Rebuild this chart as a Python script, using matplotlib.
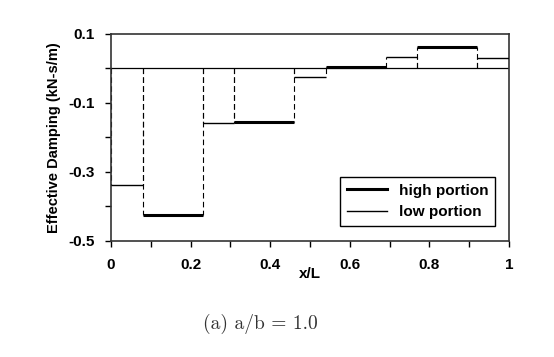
import matplotlib
matplotlib.use("Agg")
import matplotlib.pyplot as plt
from matplotlib.ticker import FixedLocator

# segment edges along x/L and damping values
edges = [0, 0.08, 0.23, 0.31, 0.46, 0.54, 0.69, 0.77, 0.92, 1.0]
damping = [-0.337, -0.424, -0.159, -0.154, -0.024, 0.004, 0.033, 0.062, 0.030]
portion = ['low', 'high', 'low', 'high', 'low', 'high', 'low', 'high', 'low']

x_major = [0, 0.2, 0.4, 0.6, 0.8, 1.0]
x_labels = ['0', '0.2', '0.4', '0.6', '0.8', '1']
y_major = [-0.5, -0.3, -0.1, 0.1]
y_labels = ['-0.5', '-0.3', '-0.1', '0.1']

plt.rcParams['font.family'] = ['Liberation Sans', 'DejaVu Sans']
plt.rcParams['font.weight'] = 'bold'

fig = plt.figure(figsize=(5.54, 3.57), dpi=100)
ax = fig.add_axes([0.2004, 0.325, 0.7184, 0.5798])

ax.axhline(0, color='black', lw=0.9, zorder=1)

for i, v in enumerate(damping):
    x0, x1 = edges[i], edges[i + 1]
    # dashed sides from zero to the level
    ax.plot([x0, x0], [0, v], color='black', lw=0.8, ls=(0, (5, 3)), zorder=2)
    ax.plot([x1, x1], [0, v], color='black', lw=0.8, ls=(0, (5, 3)), zorder=2)
    lw = 2.2 if portion[i] == 'high' else 1.0
    ax.plot([x0, x1], [v, v], color='black', lw=lw, solid_capstyle='butt', zorder=3)

h_high, = ax.plot([], [], color='black', lw=2.2, label='high portion')
h_low, = ax.plot([], [], color='black', lw=1.0, label='low portion')
leg = ax.legend(handles=[h_high, h_low], loc='lower right', bbox_to_anchor=(0.985, 0.035),
                fancybox=False, edgecolor='black', framealpha=1, fontsize=11,
                handlelength=2.6, borderpad=0.45, labelspacing=0.5)
leg.get_frame().set_linewidth(1.0)

ax.set_xlim(0, 1)
ax.set_ylim(-0.5, 0.1)
ax.xaxis.set_major_locator(FixedLocator(x_major))
ax.xaxis.set_minor_locator(FixedLocator([0.1, 0.3, 0.5, 0.7, 0.9]))
ax.yaxis.set_major_locator(FixedLocator(y_major))
ax.yaxis.set_minor_locator(FixedLocator([-0.4, -0.2, 0.0]))
ax.set_xticklabels(x_labels)
ax.set_yticklabels(y_labels)
ax.tick_params(which='both', direction='out', length=4, width=1, labelsize=11, pad=8)

for s in ax.spines.values():
    s.set_linewidth(1.2)
    s.set_color('#333333')

ax.set_xlabel('x/L', fontsize=11, fontweight='bold', labelpad=-3)
ax.set_ylabel('Effective Damping (kN-s/m)', fontsize=10.5, fontweight='bold', labelpad=5)

fig.text(0.47, 0.092, '(a) a/b = 1.0', family='cmr10', fontweight='normal',
         fontsize=14, color='#333333', ha='center', va='center')

plt.savefig('out.png', dpi=100)
plt.close('all')
